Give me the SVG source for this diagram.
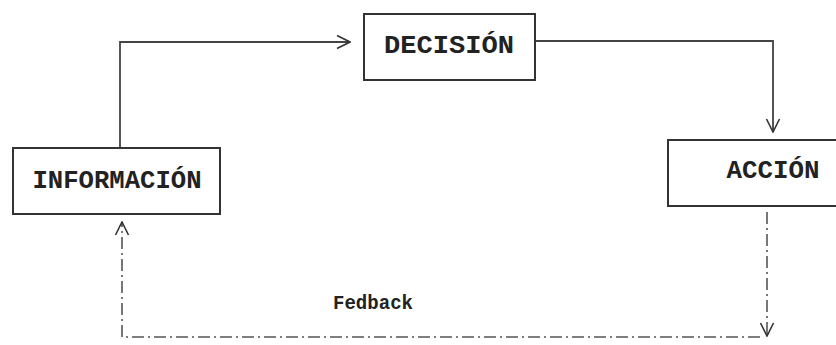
<svg xmlns="http://www.w3.org/2000/svg" width="836" height="345" viewBox="0 0 836 345">
<defs>
<marker id="open" viewBox="0 0 16 16" refX="15" refY="8" markerWidth="16" markerHeight="16" markerUnits="userSpaceOnUse" orient="auto">
<path d="M2,1.5 L15,8 L2,14.5" fill="none" stroke="#333" stroke-width="1.6"/>
</marker>
</defs>
<style>
.box{fill:#fff;stroke:#333;stroke-width:2}
.lbl{font-family:"Liberation Mono","Courier New",monospace;font-weight:bold;fill:#222;text-anchor:middle}
.ln{fill:none;stroke:#444;stroke-width:1.8}
.dash{fill:none;stroke:#555;stroke-width:1.6;stroke-dasharray:12,4,2,4}
</style>
<rect width="836" height="345" fill="#fff"/>
<g id="connectors">
<path class="ln" d="M120,148 V42 H350" marker-end="url(#open)"/>
<path class="ln" d="M535,41 H773 V132" marker-end="url(#open)"/>
<path class="dash" d="M767,212 V336" marker-end="url(#open)"/>
<path class="dash" d="M760,337 H122 V222" marker-end="url(#open)"/>
</g>
<g id="informacion">
<rect class="box" x="13" y="148" width="207" height="66"/>
<text class="lbl" x="117" y="188" font-size="25" textLength="169" lengthAdjust="spacingAndGlyphs">INFORMACIÓN</text>
</g>
<g id="decision">
<rect class="box" x="364" y="14" width="171" height="66"/>
<text class="lbl" x="449" y="53" font-size="25" textLength="130" lengthAdjust="spacingAndGlyphs">DECISIÓN</text>
</g>
<g id="accion">
<rect class="box" x="668" y="140" width="180" height="66"/>
<text class="lbl" x="773" y="178" font-size="25" textLength="93" lengthAdjust="spacingAndGlyphs">ACCIÓN</text>
</g>
<g id="fedback">
<text class="lbl" x="373" y="309" font-size="20" textLength="80" lengthAdjust="spacingAndGlyphs">Fedback</text>
</g>
</svg>
